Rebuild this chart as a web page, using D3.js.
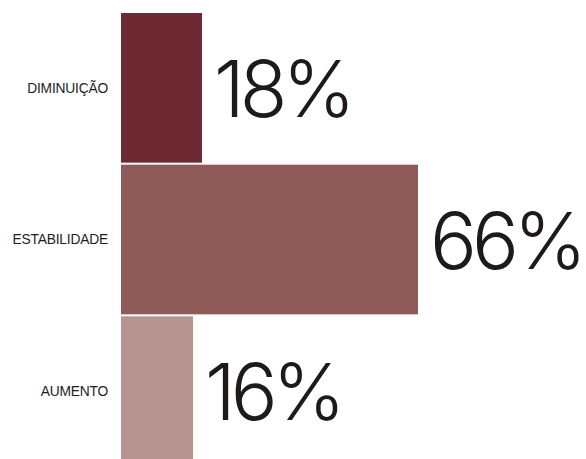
<!DOCTYPE html>
<html>
<head>
<meta charset="utf-8">
<script src="https://cdn.jsdelivr.net/npm/d3@7"></script>
<style>
  html, body { margin: 0; padding: 0; background: #fff; }
  svg { display: block; }
</style>
</head>
<body>
<svg id="chart" width="586" height="459"></svg>
<script>
// Share of responses by trend category
const categories = ["DIMINUIÇÃO", "ESTABILIDADE", "AUMENTO"];
const values = [18, 66, 16];
const valueLabels = ["18%", "66%", "16%"];
const colors = ["#6e2a32", "#8f5b58", "#b89490"];

const svg = d3.select("#chart");
const left = 121;

const x = d3.scaleLinear().domain([0, 66]).range([left, 418]);
const y = d3.scaleBand().domain(categories).range([13, 466]).paddingInner(0.0132);

const rows = svg.selectAll("g.row")
  .data(categories.map((c, i) => ({ c, v: values[i], lab: valueLabels[i], col: colors[i] })))
  .join("g").attr("class", "row");

rows.append("rect")
  .attr("x", x(0))
  .attr("y", d => y(d.c))
  .attr("width", d => x(d.v) - x(0))
  .attr("height", y.bandwidth())
  .attr("fill", d => d.col);

rows.append("text")
  .attr("x", left - 13)
  .attr("y", d => y(d.c) + y.bandwidth() / 2)
  .attr("dy", "0.36em")
  .attr("text-anchor", "end")
  .attr("font-family", "'Liberation Sans', Arial, sans-serif")
  .attr("font-size", 13.8)
  .attr("letter-spacing", -0.2)
  .attr("fill", "#1e1e1e")
  .text(d => d.c);

rows.append("text")
  .attr("x", d => x(d.v) + 12)
  .attr("y", d => y(d.c) + y.bandwidth() / 2 + 29)
  .attr("font-family", "Inter, 'Liberation Sans', sans-serif")
  .attr("font-weight", 300)
  .attr("font-size", 78)
  .attr("letter-spacing", -5)
  .attr("fill", "#1e1a1a")
  .text(d => d.lab);
</script>
</body>
</html>
